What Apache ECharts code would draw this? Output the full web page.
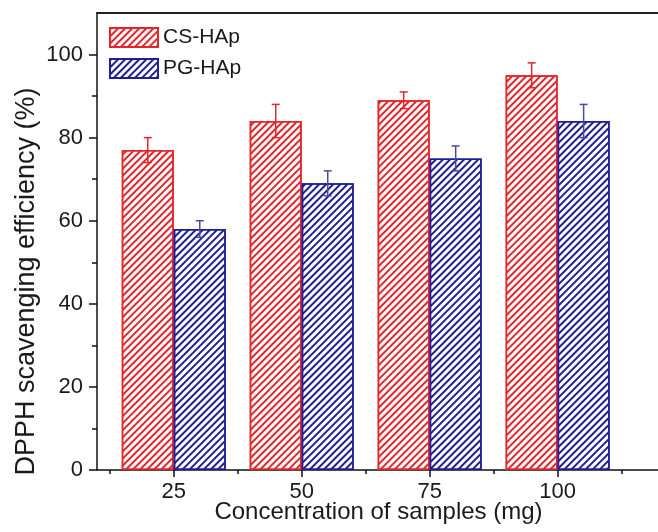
<!DOCTYPE html>
<html>
<head>
<meta charset="utf-8">
<title>DPPH scavenging</title>
<script src="https://cdn.jsdelivr.net/npm/echarts@6/dist/echarts.min.js"></script>
<style>
  html, body { margin: 0; padding: 0; background: #fff; }
  #chart { width: 658px; height: 532px; }
</style>
</head>
<body>
<div id="chart"></div>
<script>
// concentration (mg)
var concentrations = [25, 50, 75, 100];
var csValues = [77, 84, 89, 95];
var csErrors = [3, 4, 2, 3];
var pgValues = [58, 69, 75, 84];
var pgErrors = [2, 3, 3, 4];
var xTicks = [25, 50, 75, 100];
var xMinorTicks = [12.5, 37.5, 62.5, 87.5, 112.5];
var yTicks = [0, 20, 40, 60, 80, 100];
var yMinorTicks = [10, 30, 50, 70, 90];

var RED = '#e3262b';
var BLUE = '#1f1f97';
var BAR_W = 52;
var FONT = 'Liberation Sans, Arial, sans-serif';

function pairs(vals) {
  return concentrations.map(function (c, i) { return [c, vals[i]]; });
}
function errRows(vals, errs) {
  return concentrations.map(function (c, i) { return [c, vals[i] - errs[i], vals[i] + errs[i]]; });
}

function errorItem(shift, color) {
  return function (params, api) {
    var hi = api.coord([api.value(0), api.value(2)]);
    var lo = api.coord([api.value(0), api.value(1)]);
    var x = hi[0] + shift;
    var cap = 4;
    var st = { stroke: color, lineWidth: 1.5 };
    return {
      type: 'group',
      children: [
        { type: 'line', shape: { x1: x, y1: hi[1], x2: x, y2: lo[1] }, style: st },
        { type: 'line', shape: { x1: x - cap, y1: hi[1], x2: x + cap, y2: hi[1] }, style: st },
        { type: 'line', shape: { x1: x - cap, y1: lo[1], x2: x + cap, y2: lo[1] }, style: st }
      ]
    };
  };
}

function hatch(color) {
  return {
    symbol: 'rect',
    symbolSize: 1,
    color: color,
    dashArrayX: [1, 0],
    dashArrayY: [1.4, 2.3],
    rotation: -Math.PI / 4
  };
}

var chart = echarts.init(document.getElementById('chart'));

var option = {
  animation: false,
  backgroundColor: '#fff',
  textStyle: { fontFamily: FONT },
  grid: { left: 97, top: 13, width: 563, height: 457, containLabel: false, outerBoundsMode: 'none' },
  legend: {
    left: 104, top: 22, orient: 'vertical', icon: 'rect',
    itemWidth: 48, itemHeight: 19, itemGap: 10,
    textStyle: { fontSize: 21, color: '#1a1a1a', fontFamily: FONT },
    data: ['CS-HAp', 'PG-HAp']
  },
  xAxis: [
    {
      type: 'value', min: 10, max: 120, position: 'bottom',
      name: 'Concentration of samples (mg)', nameLocation: 'middle', nameGap: 30, nameMoveOverlap: false,
      nameTextStyle: { fontSize: 24, color: '#1a1a1a', fontFamily: FONT },
      axisLine: { show: true, onZero: false, lineStyle: { color: '#111', width: 1.5 } },
      axisTick: { show: true, customValues: xTicks, length: 7, lineStyle: { color: '#111', width: 1.5 } },
      axisLabel: { customValues: xTicks, fontSize: 22, color: '#1a1a1a', margin: 11, fontFamily: FONT },
      splitLine: { show: false }
    },
    {
      type: 'value', min: 10, max: 120, position: 'bottom',
      axisLine: { show: false },
      axisTick: { show: true, customValues: xMinorTicks, length: 4, lineStyle: { color: '#111', width: 1.5 } },
      axisLabel: { show: false },
      splitLine: { show: false }
    },
    {
      type: 'value', min: 10, max: 120, position: 'top',
      axisLine: { show: true, onZero: false, lineStyle: { color: '#222', width: 2 } },
      axisTick: { show: false }, axisLabel: { show: false }, splitLine: { show: false }
    }
  ],
  yAxis: [
    {
      type: 'value', min: 0, max: 110, position: 'left',
      name: 'DPPH scavenging efficiency (%)', nameLocation: 'middle', nameGap: 57, nameMoveOverlap: false,
      nameTextStyle: { fontSize: 27, color: '#1a1a1a', fontFamily: FONT, padding: [0, 80, 0, 0] },
      axisLine: { show: true, onZero: false, lineStyle: { color: '#111', width: 1.5 } },
      axisTick: { show: true, customValues: yTicks, length: 8, lineStyle: { color: '#111', width: 1.5 } },
      axisLabel: { customValues: yTicks, fontSize: 22, color: '#1a1a1a', margin: 14, fontFamily: FONT },
      splitLine: { show: false }
    },
    {
      type: 'value', min: 0, max: 110, position: 'left',
      axisLine: { show: false },
      axisTick: { show: true, customValues: yMinorTicks, length: 5, lineStyle: { color: '#111', width: 1.5 } },
      axisLabel: { show: false },
      splitLine: { show: false }
    }
  ],
  series: [
    {
      name: 'CS-HAp', type: 'bar', xAxisIndex: 0, yAxisIndex: 0,
      barWidth: BAR_W, barGap: '0%',
      itemStyle: { color: '#fff', borderColor: RED, borderWidth: 1.5, decal: hatch(RED) },
      data: pairs(csValues)
    },
    {
      name: 'PG-HAp', type: 'bar', xAxisIndex: 0, yAxisIndex: 0,
      barWidth: BAR_W, barGap: '0%',
      itemStyle: { color: '#fff', borderColor: BLUE, borderWidth: 1.5, decal: hatch(BLUE) },
      data: pairs(pgValues)
    },
    {
      type: 'custom', xAxisIndex: 0, yAxisIndex: 0, z: 5,
      renderItem: errorItem(-BAR_W / 2, RED),
      encode: { x: 0, y: [1, 2] },
      data: errRows(csValues, csErrors)
    },
    {
      type: 'custom', xAxisIndex: 0, yAxisIndex: 0, z: 5,
      renderItem: errorItem(BAR_W / 2, '#4b4b9c'),
      encode: { x: 0, y: [1, 2] },
      data: errRows(pgValues, pgErrors)
    }
  ]
};

chart.setOption(option);
</script>
</body>
</html>
